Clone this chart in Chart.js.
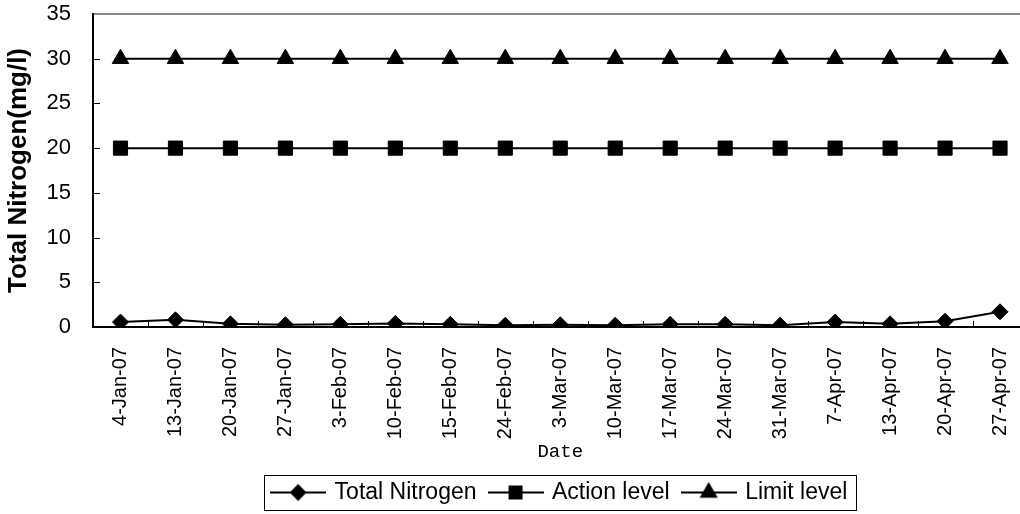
<!DOCTYPE html>
<html>
<head>
<meta charset="utf-8">
<script src="https://cdn.jsdelivr.net/npm/chart.js@4"></script>
<style>
  html, body { margin: 0; padding: 0; background: #fff; overflow: hidden; }
  #wrap { width: 1020px; height: 514px; overflow: hidden; }
  canvas { display: block; }
</style>
</head>
<body>
<div id="wrap"><canvas id="nitrogenChart" width="1040" height="514"></canvas></div>
<script>
const dates = ['4-Jan-07', '13-Jan-07', '20-Jan-07', '27-Jan-07', '3-Feb-07', '10-Feb-07', '15-Feb-07', '24-Feb-07',
               '3-Mar-07', '10-Mar-07', '17-Mar-07', '24-Mar-07', '31-Mar-07', '7-Apr-07', '13-Apr-07', '20-Apr-07', '27-Apr-07'];
const totalNitrogen = [0.55, 0.8, 0.35, 0.25, 0.3, 0.4, 0.3, 0.2, 0.25, 0.2, 0.3, 0.3, 0.2, 0.55, 0.35, 0.65, 1.7];
const actionLevel = [20, 20, 20, 20, 20, 20, 20, 20, 20, 20, 20, 20, 20, 20, 20, 20, 20];
const limitLevel = [30, 30, 30, 30, 30, 30, 30, 30, 30, 30, 30, 30, 30, 30, 30, 30, 30];
const yMin = 0, yMax = 35, yStep = 5;

const sans = "'Liberation Sans', Arial, sans-serif";

// legend icons: line with marker in the middle
const makeIcon = (style, radius) => {
    const c = document.createElement('canvas');
    c.width = 56; c.height = 22;
    const g = c.getContext('2d');
    g.strokeStyle = '#000';
    g.lineWidth = 2;
    g.beginPath();
    g.moveTo(0, 11); g.lineTo(56, 11);
    g.stroke();
    g.fillStyle = '#000';
    Chart.helpers.drawPoint(g, {pointStyle: style, radius: radius, borderWidth: 1}, 28, 11);
    return c;
};
const legendIcons = [makeIcon('rectRot', 7), makeIcon('rect', 8.5), makeIcon('triangle', 8.5)];

const innerTicks = {
    id: 'innerTicks',
    beforeDatasetsDraw(chart) {
        const {ctx, chartArea: a, scales: {x, y}} = chart;
        ctx.save();
        ctx.strokeStyle = '#000';
        ctx.lineWidth = 1;
        ctx.beginPath();
        for (let i = 1; i <= dates.length; i++) {
            const px = Math.round(x.getPixelForValue(i - 0.5)) + 0.5;
            ctx.moveTo(px, a.bottom);
            ctx.lineTo(px, a.bottom - 6);
        }
        y.ticks.forEach(t => {
            if (t.value === yMax) return;
            const py = Math.round(y.getPixelForValue(t.value)) + 0.5;
            ctx.moveTo(a.left, py);
            ctx.lineTo(a.left + 7, py);
        });
        ctx.stroke();
        ctx.restore();
    }
};

const legendFrame = {
    id: 'legendFrame',
    afterDraw(chart) {
        const boxes = chart.legend.legendHitBoxes;
        if (!boxes || !boxes.length) return;
        const last = boxes[boxes.length - 1];
        const left = boxes[0].left - 9;
        const right = last.left + last.width + 9;
        const top = boxes[0].top - 6;
        const bottom = boxes[0].top + boxes[0].height + 6;
        const ctx = chart.ctx;
        ctx.save();
        ctx.strokeStyle = '#000';
        ctx.lineWidth = 1;
        ctx.strokeRect(Math.round(left) + 0.5, Math.round(top) + 0.5, Math.round(right - left), Math.round(bottom - top));
        ctx.restore();
    }
};

const series = (label, data, style, radius) => ({
    label: label,
    data: data,
    borderColor: '#000',
    backgroundColor: '#000',
    borderWidth: 2,
    tension: 0,
    pointStyle: style,
    pointRadius: radius,
    pointHoverRadius: radius,
    pointBackgroundColor: '#000',
    pointBorderColor: '#000',
    pointBorderWidth: 1
});

new Chart(document.getElementById('nitrogenChart').getContext('2d'), {
    type: 'line',
    data: {
        labels: dates,
        datasets: [
            series('Total Nitrogen', totalNitrogen, 'rectRot', 8),
            series('Action level', actionLevel, 'rect', 10),
            series('Limit level', limitLevel, 'triangle', 9.5)
        ]
    },
    options: {
        responsive: false,
        animation: false,
        events: [],
        layout: {padding: {top: 14, right: 12.5, bottom: 0, left: 0}},
        plugins: {
            tooltip: {enabled: false},
            legend: {
                position: 'bottom',
                fullSize: false,
                labels: {
                    usePointStyle: true,
                    pointStyleWidth: 50,
                    padding: 14,
                    color: '#000',
                    font: {family: sans, size: 23},
                    generateLabels: chart => chart.data.datasets.map((ds, i) => ({
                        text: ds.label,
                        pointStyle: legendIcons[i],
                        datasetIndex: i,
                        fontColor: '#000',
                        lineWidth: 0,
                        hidden: false
                    }))
                }
            }
        },
        scales: {
            x: {
                offset: true,
                grid: {display: false},
                border: {display: true, color: '#000', width: 2},
                ticks: {
                    autoSkip: false,
                    minRotation: 90,
                    maxRotation: 90,
                    padding: 12,
                    color: '#000',
                    font: {family: sans, size: 20}
                },
                title: {
                    display: true,
                    text: 'Date',
                    color: '#000',
                    padding: {top: 0, bottom: 4},
                    font: {family: "'Liberation Mono', monospace", size: 19}
                },
                afterFit: scale => { scale.height = 140; }
            },
            y: {
                min: yMin,
                max: yMax,
                grid: {
                    drawTicks: false,
                    lineWidth: 2,
                    color: ctx => (ctx.tick && ctx.tick.value === yMax) ? '#888' : 'transparent'
                },
                border: {display: true, color: '#000', width: 2},
                ticks: {
                    stepSize: yStep,
                    padding: 22,
                    color: '#000',
                    font: {family: sans, size: 22}
                },
                title: {
                    display: true,
                    text: 'Total Nitrogen(mg/l)',
                    color: '#000',
                    padding: {top: 3, bottom: 0},
                    font: {family: sans, size: 26, weight: 'bold'}
                },
                afterFit: scale => {
                    scale.width = 93;
                    scale.paddingTop = 10;
                    scale.paddingBottom = 10;
                }
            }
        }
    },
    plugins: [innerTicks, legendFrame]
});
</script>
</body>
</html>
